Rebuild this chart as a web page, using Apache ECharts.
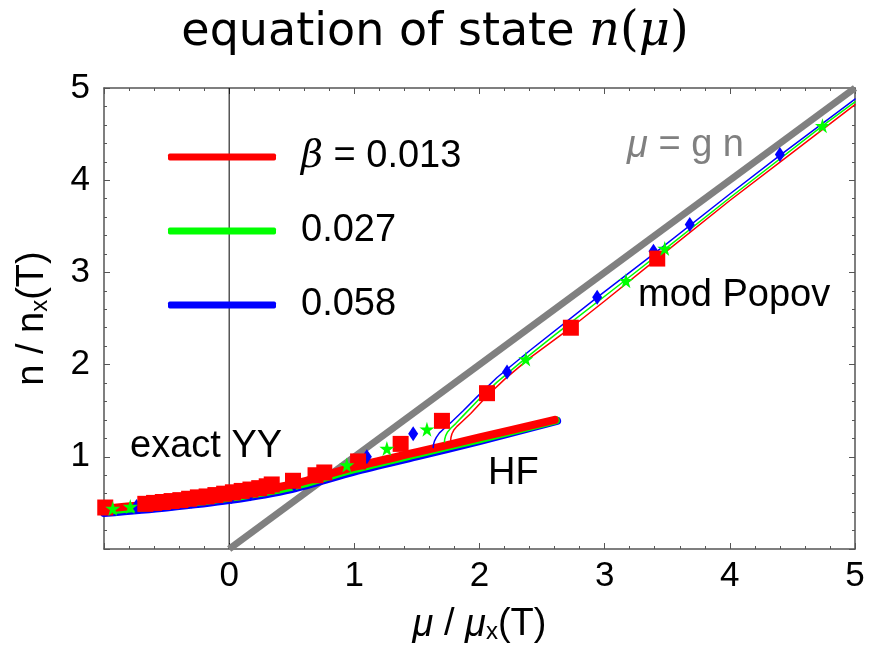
<!DOCTYPE html>
<html>
<head>
<meta charset="utf-8">
<script src="https://cdn.jsdelivr.net/npm/echarts@6/dist/echarts.min.js"></script>
<style>
  html, body { margin: 0; padding: 0; background: #fff; }
  #chart { width: 870px; height: 649px; }
</style>
</head>
<body>
<div id="chart"></div>
<script>
// Temperature labels and colours of the three data sets
const betas = ['0.013', '0.027', '0.058'];
const colors = ['#ff0000', '#00ff00', '#0000ff'];

// Axis ranges / tick labels
const xTicks = [-1, 0, 1, 2, 3, 4, 5];
const yTicks = [0, 1, 2, 3, 4, 5];

// Mean-field line mu = g n
const gnLine = [[0, 0], [5, 5]];
// mu = 0 reference line
const zeroLine = [[0, 0], [0, 5]];

// Hartree-Fock curves [mu, n]
const hfRed   = [[-1.0, 0.44], [-0.5, 0.50], [0.0, 0.58], [0.5, 0.70], [1.0, 0.89], [1.5, 1.05], [2.0, 1.21], [2.6, 1.40]];
const hfGreen = [[-1.0, 0.415], [-0.5, 0.475], [0.0, 0.555], [0.5, 0.675], [1.0, 0.865], [1.5, 1.03], [2.0, 1.19], [2.61, 1.395]];
const hfBlue  = [[-1.0, 0.39], [-0.5, 0.45], [0.0, 0.53], [0.5, 0.65], [1.0, 0.84], [1.5, 1.005], [2.0, 1.17], [2.62, 1.39]];

// Modified Popov curves [mu, n]
const popRed   = [[1.77, 1.18], [1.772, 1.21], [1.78, 1.25], [1.795, 1.29], [1.82, 1.33], [1.86, 1.38], [1.93, 1.47], [2.06, 1.66], [2.2, 1.84], [2.4, 2.07], [2.73, 2.40], [3.0, 2.69], [3.42, 3.15], [4.0, 3.78], [4.5, 4.30], [5.0, 4.82]];
const popGreen = [[1.72, 1.16], [1.722, 1.19], [1.73, 1.23], [1.745, 1.27], [1.77, 1.31], [1.81, 1.36], [1.88, 1.46], [2.0, 1.63], [2.14, 1.81], [2.37, 2.07], [2.6, 2.32], [3.17, 2.92], [3.48, 3.25], [4.0, 3.81], [4.74, 4.59], [5.0, 4.85]];
const popBlue  = [[1.63, 1.10], [1.632, 1.13], [1.64, 1.17], [1.655, 1.21], [1.68, 1.26], [1.72, 1.31], [1.77, 1.37], [1.87, 1.50], [1.98, 1.65], [2.14, 1.86], [2.4, 2.15], [2.94, 2.73], [3.4, 3.21], [4.0, 3.85], [4.4, 4.27], [5.0, 4.88]];

// Exact (Monte Carlo) data points [mu, n]
const exactRed = [[-0.99, 0.45], [-0.67, 0.49], [-0.60, 0.50], [-0.53, 0.51], [-0.46, 0.52], [-0.39, 0.53], [-0.32, 0.545], [-0.25, 0.56], [-0.18, 0.57], [-0.11, 0.585], [-0.04, 0.60], [0.03, 0.615], [0.10, 0.63], [0.17, 0.645], [0.24, 0.66], [0.30, 0.68], [0.34, 0.70], [0.51, 0.74], [0.69, 0.80], [0.76, 0.83], [1.03, 0.95], [1.37, 1.14], [1.70, 1.39], [2.06, 1.69], [2.73, 2.40], [3.42, 3.15]];
const exactGreen = [[-0.93, 0.44], [-0.79, 0.46], [0.94, 0.91], [1.26, 1.09], [1.58, 1.30], [2.37, 2.06], [3.17, 2.91], [3.48, 3.26], [4.74, 4.59]];
const exactBlue = [[-0.74, 0.46], [-0.60, 0.48], [-0.45, 0.50], [-0.30, 0.52], [-0.14, 0.55], [0.02, 0.57], [0.17, 0.60], [0.52, 0.70], [1.10, 1.00], [1.47, 1.25], [2.22, 1.92], [2.94, 2.73], [3.39, 3.23], [3.68, 3.52], [4.40, 4.28]];

const FONT = '"Liberation Sans", Arial, Helvetica, sans-serif';
const STAR = 'path://M50,0 L61,35 L98,35 L68,57 L79,91 L50,70 L21,91 L32,57 L2,35 L39,35 Z';
const frameColor = '#555';

const chart = echarts.init(document.getElementById('chart'), null, { renderer: 'canvas' });

function axisCommon(showLabels, pos) {
  return {
    position: pos,
    axisLine: { show: true, onZero: false, lineStyle: { color: frameColor, width: 1.5 } },
    axisTick: { show: true, inside: true, length: 6, lineStyle: { color: frameColor, width: 1 } },
    minorTick: { show: true, splitNumber: 5, length: 3, lineStyle: { color: frameColor, width: 1 } },
    splitLine: { show: false },
    axisLabel: { show: showLabels, color: '#000', fontFamily: FONT, fontSize: 35 }
  };
}

const xMin = xTicks[0], xMax = xTicks[xTicks.length - 1];
const yMin = yTicks[0], yMax = yTicks[yTicks.length - 1];

const xBottom = Object.assign(axisCommon(true, 'bottom'), {
  type: 'value', min: xMin, max: xMax, interval: 1,
  name: '{i|μ} / {i|μ}{s|x}(T)',
  nameLocation: 'middle', nameGap: 57,
  nameTextStyle: {
    color: '#000', fontFamily: FONT, fontSize: 38,
    rich: {
      i: { fontFamily: FONT, fontSize: 38, fontStyle: 'italic', color: '#000' },
      s: { fontFamily: FONT, fontSize: 24, color: '#000', padding: [14, 0, 0, 0] }
    }
  }
});
xBottom.axisLabel.formatter = v => (v < 0 ? '' : String(v));
xBottom.axisLabel.margin = 10;

const xTop = Object.assign(axisCommon(false, 'top'), { type: 'value', min: xMin, max: xMax, interval: 1 });

const yLeft = Object.assign(axisCommon(true, 'left'), {
  type: 'value', min: yMin, max: yMax, interval: 1,
  name: 'n / n{s|x}(T)',
  nameLocation: 'middle', nameGap: 52, nameRotate: 90,
  nameTextStyle: {
    color: '#000', fontFamily: FONT, fontSize: 38,
    rich: { s: { fontFamily: FONT, fontSize: 24, color: '#000', padding: [14, 0, 0, 0] } }
  }
});
yLeft.axisLabel.formatter = v => (v === 0 ? '' : String(v));
yLeft.axisLabel.margin = 14;

const yRight = Object.assign(axisCommon(false, 'right'), { type: 'value', min: yMin, max: yMax, interval: 1 });

function lineSeries(name, data, color, width, z, smooth) {
  return {
    name: name, type: 'line', data: data, smooth: smooth, showSymbol: false, symbol: 'none',
    lineStyle: { color: color, width: width, cap: 'round', join: 'round' },
    itemStyle: { color: color }, z: z, silent: true, animation: false
  };
}

function scatterSeries(name, data, color, symbol, size, z) {
  return {
    name: name, type: 'scatter', data: data, symbol: symbol, symbolSize: size,
    itemStyle: { color: color, opacity: 1 }, z: z, silent: true, animation: false
  };
}

const series = [
  {
    type: 'line', data: gnLine, showSymbol: false, symbol: 'none',
    lineStyle: { color: '#808080', width: 7 }, z: 1, silent: true, animation: false
  },
  {
    type: 'line', data: zeroLine, showSymbol: false, symbol: 'none',
    lineStyle: { color: '#000', width: 1 }, z: 0, silent: true, animation: false
  },
  // Hartree-Fock (thick)
  lineSeries(betas[2], hfBlue, colors[2], 8, 2, 0.3),
  lineSeries(betas[1], hfGreen, colors[1], 8, 3, 0.3),
  lineSeries(betas[0], hfRed, colors[0], 8, 4, 0.3),
  // modified Popov (thin)
  lineSeries(betas[2], popBlue, colors[2], 1.5, 5, false),
  lineSeries(betas[1], popGreen, colors[1], 1.5, 5, false),
  lineSeries(betas[0], popRed, colors[0], 1.5, 5, false),
  // exact data
  scatterSeries(betas[2], exactBlue, colors[2], 'diamond', [10, 15], 6),
  scatterSeries(betas[0], exactRed, colors[0], 'rect', 16, 7),
  scatterSeries(betas[1], exactGreen, colors[1], STAR, 15, 8)
];

const option = {
  backgroundColor: '#fff',
  animation: false,
  title: {
    text: '{t|equation of state }{m|n}{p|(}{m|μ}{p|)}',
    left: 'center', top: 4,
    textStyle: {
      fontWeight: 'normal',
      rich: {
        t: { fontFamily: '"DejaVu Sans", sans-serif', fontWeight: 'normal', fontSize: 46, color: '#000' },
        m: { fontFamily: '"DejaVu Serif", serif', fontStyle: 'italic', fontWeight: 'normal', fontSize: 48, color: '#000' },
        p: { fontFamily: '"DejaVu Serif", serif', fontWeight: 'normal', fontSize: 48, color: '#000' }
      }
    }
  },
  legend: {
    orient: 'vertical', left: 163, top: 132,
    data: betas.map(b => ({ name: b, icon: 'roundRect' })),
    itemWidth: 108, itemHeight: 7, itemGap: 34,
    selectedMode: false,
    formatter: name => (name === betas[0] ? '{i|β} = ' + name : name),
    textStyle: {
      fontFamily: FONT, fontSize: 38, color: '#000', lineHeight: 40,
      padding: [0, 0, 0, 20],
      rich: { i: { fontFamily: '"DejaVu Serif", serif', fontStyle: 'italic', fontSize: 38, color: '#000' } }
    }
  },
  grid: { left: 104, right: 15, top: 88, bottom: 96, containLabel: false },
  xAxis: [xBottom, xTop],
  yAxis: [yLeft, yRight],
  series: series,
  graphic: [
    { type: 'text', x: 130, y: 447, silent: true,
      style: { text: 'exact YY', font: '38px ' + FONT, fill: '#000', align: 'left', verticalAlign: 'middle' } },
    { type: 'text', x: 488, y: 474, silent: true,
      style: { text: 'HF', font: '38px ' + FONT, fill: '#000', align: 'left', verticalAlign: 'middle' } },
    { type: 'text', x: 638, y: 296, silent: true,
      style: { text: 'mod Popov', font: '38px ' + FONT, fill: '#000', align: 'left', verticalAlign: 'middle' } },
    { type: 'text', x: 627, y: 146, silent: true,
      style: {
        text: '{i|μ} = g n', align: 'left', verticalAlign: 'middle',
        font: '38px ' + FONT, fill: '#808080',
        rich: { i: { fontFamily: FONT, fontStyle: 'italic', fontSize: 38, fill: '#808080', color: '#808080' } }
      } }
  ]
};

chart.setOption(option);
</script>
</body>
</html>
